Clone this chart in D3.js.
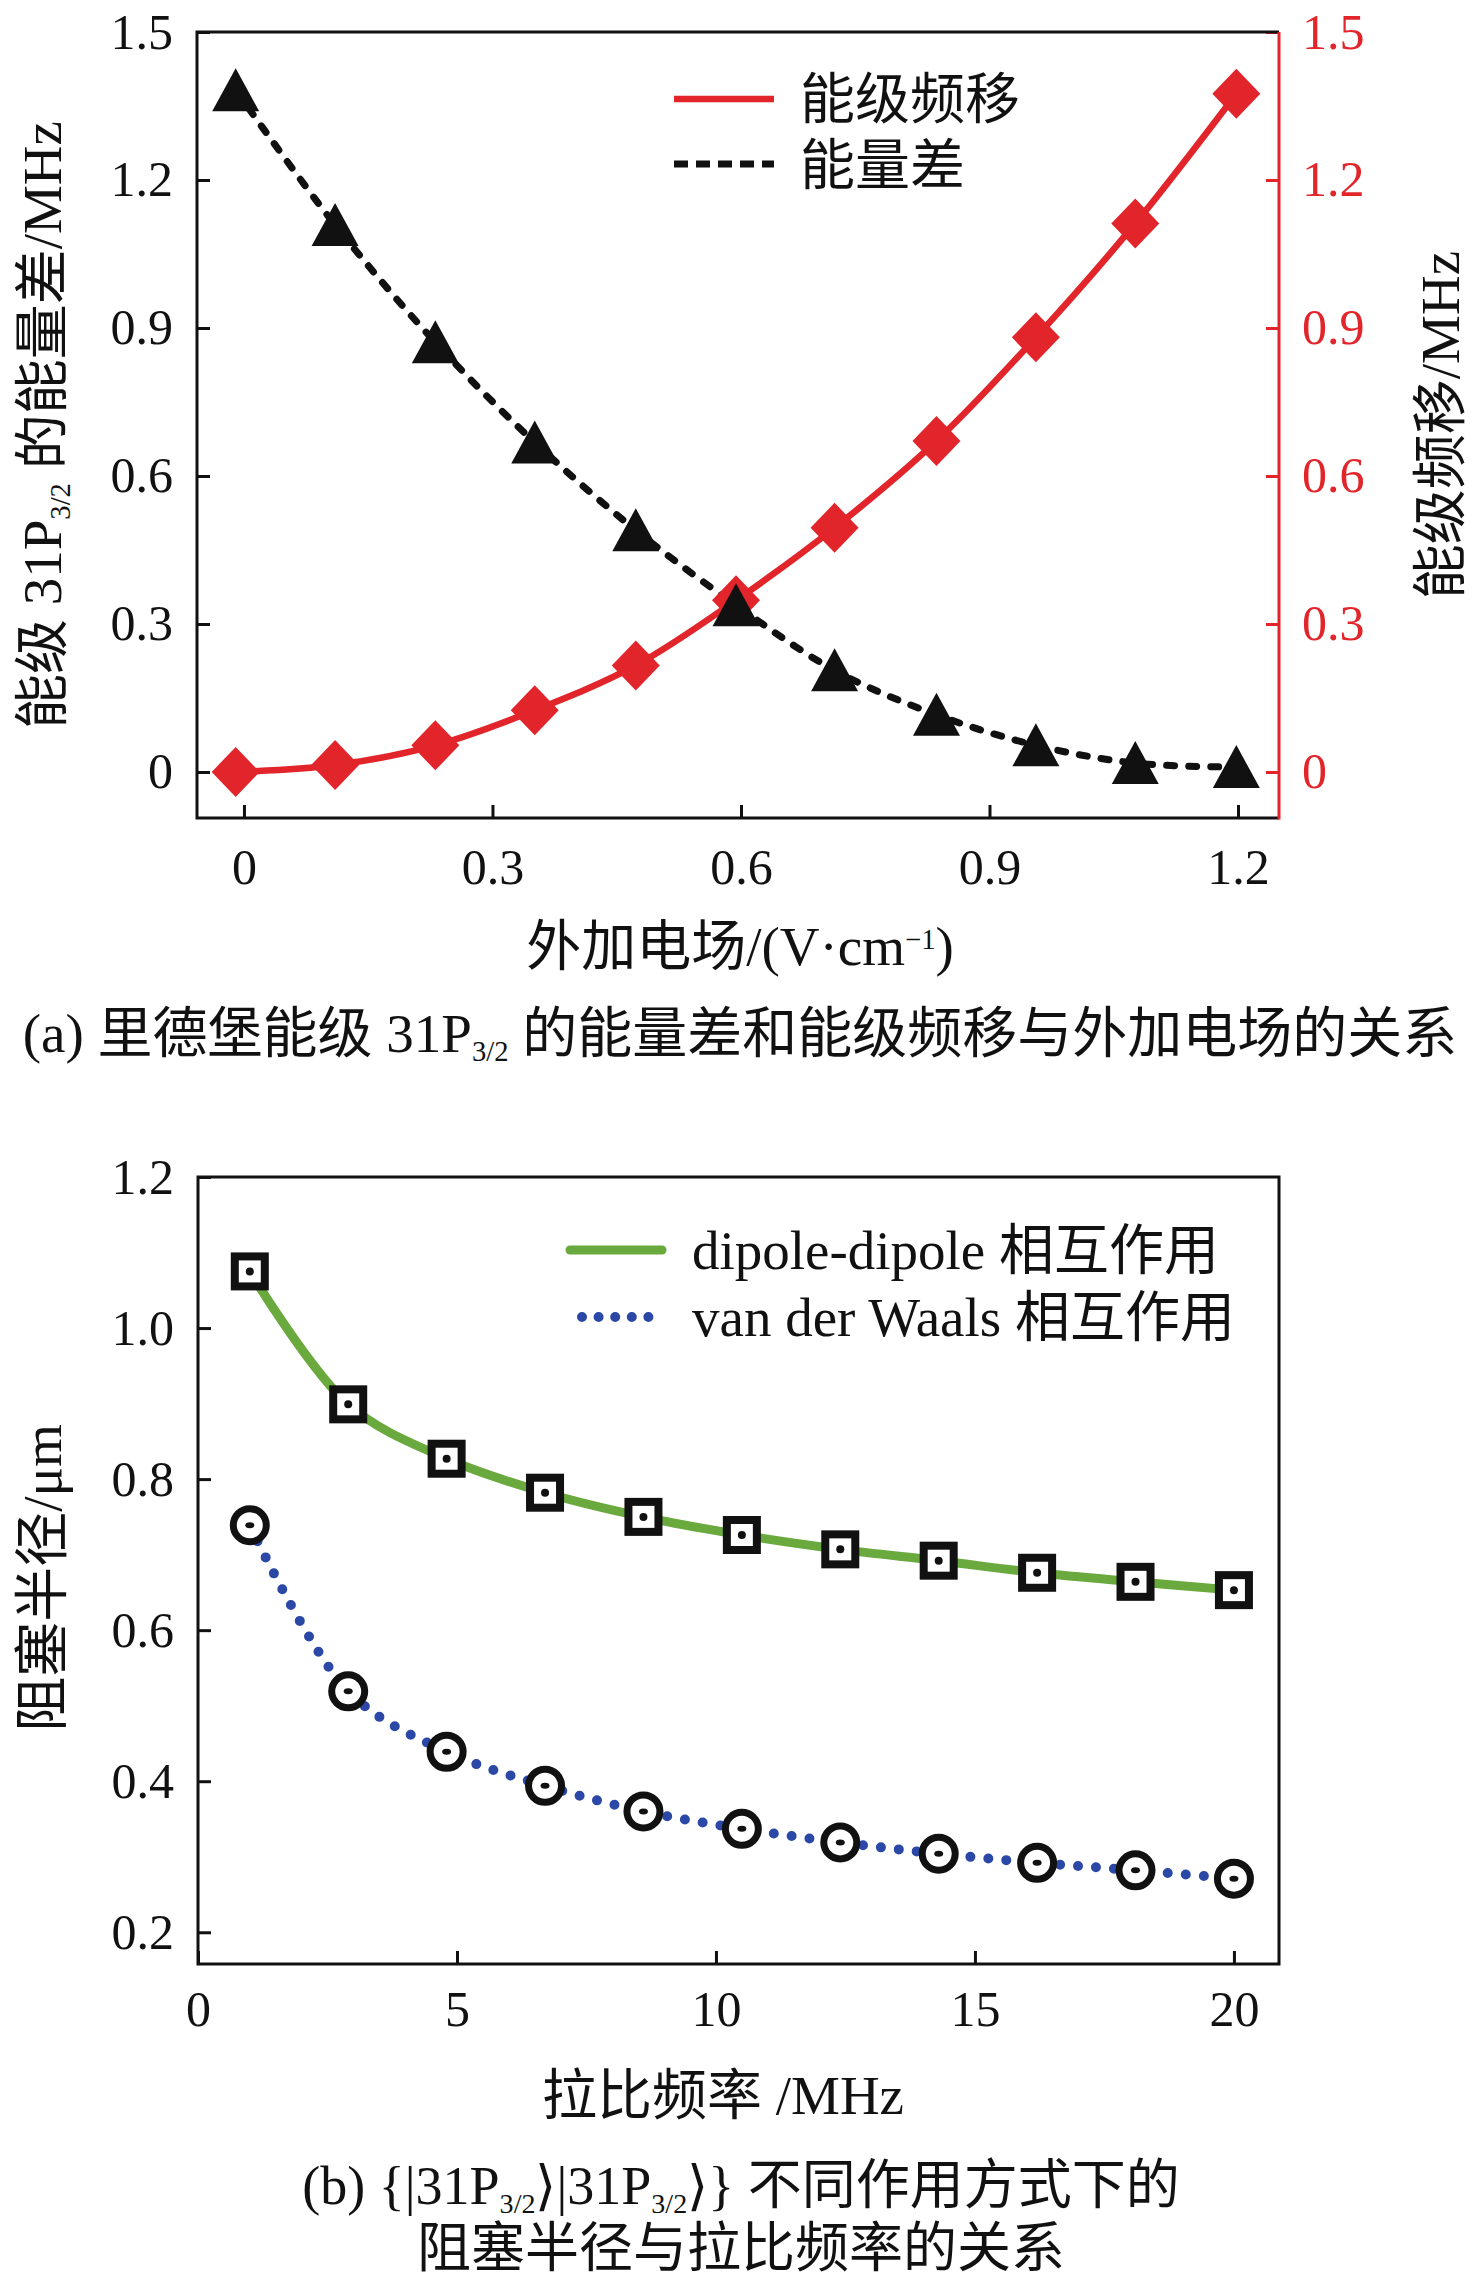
<!DOCTYPE html>
<html>
<head>
<meta charset="utf-8">
<script src="https://cdn.jsdelivr.net/npm/d3@7"></script>
<style>
  body { margin: 0; background: #fff; }
  text { font-family: "Liberation Serif", "Noto Sans CJK SC", serif; }
</style>
</head>
<body>
<div id="chart"></div>
<script>
// (a) energy gap / level shift vs applied field
const fieldX = [-0.01, 0.11, 0.231, 0.351, 0.473, 0.594, 0.713, 0.836, 0.956, 1.076, 1.198];
const energyGap = [1.382, 1.109, 0.871, 0.668, 0.490, 0.338, 0.206, 0.116, 0.054, 0.018, 0.01];
const levelShift = [0.0, 0.014, 0.054, 0.125, 0.216, 0.348, 0.495, 0.671, 0.881, 1.112, 1.375];
const fieldTicks = [0, 0.3, 0.6, 0.9, 1.2];
const mhzTicks = [0, 0.3, 0.6, 0.9, 1.2, 1.5];

// (b) blockade radius vs Rabi frequency
const rabiX = [1, 2.9, 4.8, 6.7, 8.6, 10.5, 12.4, 14.3, 16.2, 18.1, 20];
const dipoleR = [1.075, 0.899, 0.827, 0.782, 0.750, 0.726, 0.707, 0.692, 0.676, 0.664, 0.653];
const vdwR = [0.739, 0.519, 0.439, 0.394, 0.360, 0.337, 0.319, 0.304, 0.292, 0.282, 0.271];
const rabiTicks = [0, 5, 10, 15, 20];
const radiusTicks = [0.2, 0.4, 0.6, 0.8, 1.0, 1.2];

const RED = "#e2252b", GREEN = "#6aa93d", BLUE = "#2c48a6", INK = "#111";
const FS = 55, TICK_FS = 50;

const svg = d3.select("#chart").append("svg")
  .attr("width", 1476).attr("height", 2278);

// text with sub/superscripts: parts = [{t, sub?, sup?}]
function richText(g, x, y, parts, size, anchor, rot) {
  const t = g.append("text")
    .attr("font-size", size)
    .attr("fill", INK)
    .attr("text-anchor", anchor || "middle");
  if (rot) t.attr("transform", `translate(${x},${y}) rotate(${rot})`);
  else t.attr("x", x).attr("y", y);
  let shift = 0;
  parts.forEach(p => {
    let target = 0, fs = size;
    if (p.sub) { target = 9; fs = size * 0.52; }
    if (p.sup) { target = -16; fs = size * 0.52; }
    t.append("tspan").attr("dy", target - shift).attr("font-size", fs).text(p.t);
    shift = target;
  });
  return t;
}

function styleAxis(g, color, size) {
  g.select(".domain").remove();
  g.selectAll("line").attr("stroke", color).attr("stroke-width", 3);
  g.selectAll("text").attr("font-size", size).attr("fill", color)
    .attr("font-family", "Liberation Serif, serif");
}

// ---------------- panel (a) ----------------
const xA = d3.scaleLinear().domain([-0.0567, 1.2495]).range([197, 1279]);
const yA = d3.scaleLinear().domain([-0.0933, 1.5]).range([818, 32]);
const gA = svg.append("g");

gA.append("g").attr("transform", "translate(0,818)")
  .call(d3.axisBottom(xA).tickValues(fieldTicks).tickSizeInner(-13).tickSizeOuter(0).tickPadding(30)
    .tickFormat(d => d === 0 ? "0" : d3.format(".1f")(d)))
  .call(g => styleAxis(g, INK, TICK_FS));
gA.append("g").attr("transform", "translate(197,0)")
  .call(d3.axisLeft(yA).tickValues(mhzTicks).tickSizeInner(-13).tickSizeOuter(0).tickPadding(24)
    .tickFormat(d => d === 0 ? "0" : d3.format(".1f")(d)))
  .call(g => styleAxis(g, INK, TICK_FS));
gA.append("g").attr("transform", "translate(1279,0)")
  .call(d3.axisRight(yA).tickValues(mhzTicks).tickSizeInner(-13).tickSizeOuter(0).tickPadding(23)
    .tickFormat(d => d === 0 ? "0" : d3.format(".1f")(d)))
  .call(g => styleAxis(g, RED, TICK_FS));

// frame
gA.append("path").attr("fill", "none").attr("stroke", INK).attr("stroke-width", 3)
  .attr("d", `M1279,32H197V818H1279`);
gA.append("line").attr("x1", 1279).attr("x2", 1279).attr("y1", 32).attr("y2", 819.5)
  .attr("stroke", RED).attr("stroke-width", 3);

const lineA = (ys) => d3.line().curve(d3.curveCatmullRom.alpha(0.5))
  .x((d, i) => xA(fieldX[i])).y(d => yA(d))(ys);

gA.append("path").attr("d", lineA(levelShift))
  .attr("fill", "none").attr("stroke", RED).attr("stroke-width", 6.5);
gA.append("path").attr("d", lineA(energyGap))
  .attr("fill", "none").attr("stroke", INK).attr("stroke-width", 7)
  .attr("stroke-dasharray", "8 14").attr("stroke-linecap", "round");

gA.selectAll(".diamond").data(levelShift).join("path")
  .attr("class", "diamond")
  .attr("transform", (d, i) => `translate(${xA(fieldX[i])},${yA(d)})`)
  .attr("d", "M0,-25L24,0L0,25L-24,0Z").attr("fill", RED);
gA.selectAll(".tri").data(energyGap).join("path")
  .attr("class", "tri")
  .attr("transform", (d, i) => `translate(${xA(fieldX[i])},${yA(d)})`)
  .attr("d", "M0,-22L23.5,21L-23.5,21Z").attr("fill", INK);

// legend (a)
gA.append("line").attr("x1", 674).attr("x2", 774).attr("y1", 99).attr("y2", 99)
  .attr("stroke", RED).attr("stroke-width", 6.5);
gA.append("line").attr("x1", 674).attr("x2", 774).attr("y1", 164).attr("y2", 164)
  .attr("stroke", INK).attr("stroke-width", 7).attr("stroke-dasharray", "14 8");
richText(gA, 800, 118, [{t: "能级频移"}], FS, "start");
richText(gA, 800, 184, [{t: "能量差"}], FS, "start");

// axis titles (a)
richText(gA, 61, 425, [{t: "能级 31P"}, {t: "3/2", sub: true}, {t: " 的能量差/MHz"}], FS, "middle", -90);
richText(gA, 1459, 425, [{t: "能级频移/MHz"}], FS, "middle", -90);
richText(gA, 740, 965, [{t: "外加电场/(V·cm"}, {t: "−1", sup: true}, {t: ")"}], FS, "middle");
richText(gA, 740, 1052, [{t: "(a) 里德堡能级 31P"}, {t: "3/2", sub: true},
  {t: " 的能量差和能级频移与外加电场的关系"}], FS, "middle");

// ---------------- panel (b) ----------------
const xB = d3.scaleLinear().domain([0, 20.87]).range([198, 1279]);
const yB = d3.scaleLinear().domain([0.158, 1.2]).range([1964, 1177]);
const gB = svg.append("g");

gB.append("g").attr("transform", "translate(0,1964)")
  .call(d3.axisBottom(xB).tickValues(rabiTicks).tickSizeInner(-13).tickSizeOuter(0).tickPadding(26))
  .call(g => styleAxis(g, INK, TICK_FS));
gB.append("g").attr("transform", "translate(198,0)")
  .call(d3.axisLeft(yB).tickValues(radiusTicks).tickSizeInner(-13).tickSizeOuter(0).tickPadding(24)
    .tickFormat(d3.format(".1f")))
  .call(g => styleAxis(g, INK, TICK_FS));

gB.append("rect").attr("x", 198).attr("y", 1177).attr("width", 1081).attr("height", 787)
  .attr("fill", "none").attr("stroke", INK).attr("stroke-width", 3);

const lineB = (ys) => d3.line().curve(d3.curveCatmullRom.alpha(0.5))
  .x((d, i) => xB(rabiX[i])).y(d => yB(d))(ys);

gB.append("path").attr("d", lineB(dipoleR))
  .attr("fill", "none").attr("stroke", GREEN).attr("stroke-width", 9);
gB.append("path").attr("d", lineB(vdwR))
  .attr("fill", "none").attr("stroke", BLUE).attr("stroke-width", 10)
  .attr("stroke-dasharray", "0 18").attr("stroke-linecap", "round");

const sq = gB.selectAll(".sq").data(dipoleR).join("g")
  .attr("class", "sq")
  .attr("transform", (d, i) => `translate(${xB(rabiX[i])},${yB(d)})`);
sq.append("rect").attr("x", -15).attr("y", -15).attr("width", 30).attr("height", 30)
  .attr("fill", "#fff").attr("stroke", INK).attr("stroke-width", 8);
sq.append("circle").attr("r", 4).attr("fill", INK);

const ci = gB.selectAll(".ci").data(vdwR).join("g")
  .attr("class", "ci")
  .attr("transform", (d, i) => `translate(${xB(rabiX[i])},${yB(d)})`);
ci.append("circle").attr("r", 16.5).attr("fill", "#fff").attr("stroke", INK).attr("stroke-width", 7);
ci.append("ellipse").attr("rx", 4.5).attr("ry", 3).attr("fill", INK);

// legend (b)
gB.append("line").attr("x1", 570).attr("x2", 662).attr("y1", 1250).attr("y2", 1250)
  .attr("stroke", GREEN).attr("stroke-width", 9).attr("stroke-linecap", "round");
gB.append("line").attr("x1", 582).attr("x2", 665).attr("y1", 1317).attr("y2", 1317)
  .attr("stroke", BLUE).attr("stroke-width", 10)
  .attr("stroke-dasharray", "0 16.6").attr("stroke-linecap", "round");
richText(gB, 692, 1269, [{t: "dipole-dipole 相互作用"}], FS, "start");
richText(gB, 692, 1336, [{t: "van der Waals 相互作用"}], FS, "start");

// axis titles (b)
richText(gB, 61, 1578, [{t: "阻塞半径/μm"}], FS, "middle", -90);
richText(gB, 723, 2114, [{t: "拉比频率 /MHz"}], FS, "middle");
richText(gB, 741, 2204, [{t: "(b) {|31P"}, {t: "3/2", sub: true}, {t: "⟩|31P"}, {t: "3/2", sub: true},
  {t: "⟩} 不同作用方式下的"}], 54, "middle");
richText(gB, 741, 2267, [{t: "阻塞半径与拉比频率的关系"}], 54, "middle");
</script>
</body>
</html>
